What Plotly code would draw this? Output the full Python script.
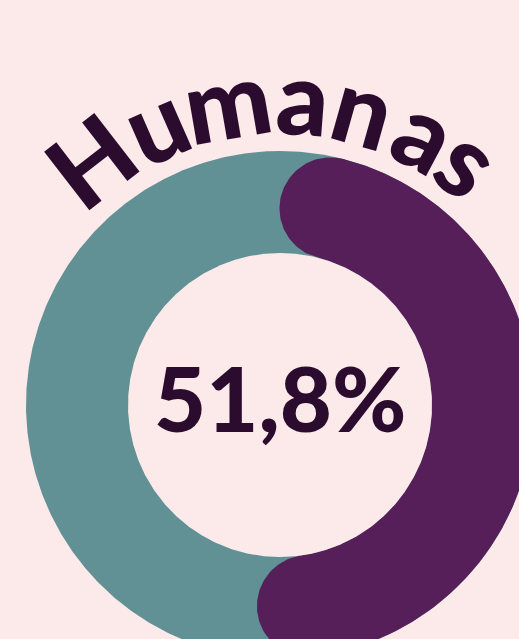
import numpy as np
import plotly.graph_objects as go

# ---- data ----
labels = ["Humanas", "Outras áreas"]
shares = [51.8, 48.2]
title_text = "Humanas"
center_label = "51,8%"

# ---- layout / style constants ----
W, H = 519, 639
CX, CY = 280, 405          # donut centre in page pixels (y down)
R_OUT, R_IN = 254, 152     # ring radii (px)
R_TEXT = 310               # radius of the curved title letters
LETTER_ANGLES = [-37.7, -23.7, -9.8, 4.3, 15.7, 28.1, 37.7]  # deg, clockwise from top
BG = "#FCEAEA"
TEAL = "#619194"
PURPLE = "#561F5A"
INK = "#2C0C2E"
FONT = "Lato"


def pt(r, th):
    return r * np.sin(th), r * np.cos(th)


fig = go.Figure()

# full ring (track) in teal
t = np.linspace(0, 2 * np.pi, 721)
ox, oy = pt(R_OUT, t)
fig.add_trace(go.Scatter(x=ox, y=oy, mode="lines", fill="toself",
                         fillcolor=TEAL, line=dict(width=0), hoverinfo="skip",
                         name=labels[1], showlegend=False))

# purple arc with rounded ends, span taken from share
span = shares[0] / 100 * 2 * np.pi
rm = (R_OUT + R_IN) / 2
h = (R_OUT - R_IN) / 2
d = h / rm
ta, tb = d, span - d
xs, ys = [], []
arc = np.linspace(ta, tb, 400)
x, y = pt(R_OUT, arc); xs += list(x); ys += list(y)
# end cap at tb
cbx, cby = pt(rm, tb)
rad = np.array([np.sin(tb), np.cos(tb)]); tan = np.array([np.cos(tb), -np.sin(tb)])
for ph in np.linspace(0, np.pi, 90):
    p = np.array([cbx, cby]) + h * (np.cos(ph) * rad + np.sin(ph) * tan)
    xs.append(p[0]); ys.append(p[1])
x, y = pt(R_IN, arc[::-1]); xs += list(x); ys += list(y)
# start cap at ta
cax, cay = pt(rm, ta)
rad = np.array([np.sin(ta), np.cos(ta)]); tan = np.array([np.cos(ta), -np.sin(ta)])
for ph in np.linspace(np.pi, 0, 90):
    p = np.array([cax, cay]) + h * (np.cos(ph) * rad - np.sin(ph) * tan)
    xs.append(p[0]); ys.append(p[1])
fig.add_trace(go.Scatter(x=xs, y=ys, mode="lines", fill="toself",
                         fillcolor=PURPLE, line=dict(width=0), hoverinfo="skip",
                         name=labels[0], showlegend=False))

# hole
ix, iy = pt(R_IN, t)
fig.add_trace(go.Scatter(x=ix, y=iy, mode="lines", fill="toself",
                         fillcolor=BG, line=dict(width=0), hoverinfo="skip",
                         showlegend=False))

annotations = []
for ch, ang in zip(title_text, LETTER_ANGLES):
    ax_, ay_ = pt(R_TEXT, np.deg2rad(ang))
    annotations.append(dict(x=ax_, y=ay_, xref="x", yref="y", text=ch,
                            showarrow=False, xanchor="center", yanchor="middle",
                            textangle=ang,
                            font=dict(family=FONT, size=102, color=INK, weight=900)))
annotations.append(dict(x=0, y=8, xref="x", yref="y", text=center_label,
                        showarrow=False, xanchor="center", yanchor="middle",
                        font=dict(family=FONT, size=90, color=INK, weight=900)))

fig.update_layout(
    width=W, height=H, margin=dict(l=0, r=0, t=0, b=0),
    paper_bgcolor=BG, plot_bgcolor=BG, showlegend=False,
    xaxis=dict(range=[-CX, W - CX], visible=False, fixedrange=True),
    yaxis=dict(range=[-(H - CY), CY], visible=False, fixedrange=True),
    annotations=annotations,
)

fig.write_html("out.html",
               config={"displayModeBar": False, "staticPlot": True},
               post_script="document.body.style.margin='0';"
                           "document.body.style.overflow='hidden';"
                           f"document.body.style.background='{BG}';")
